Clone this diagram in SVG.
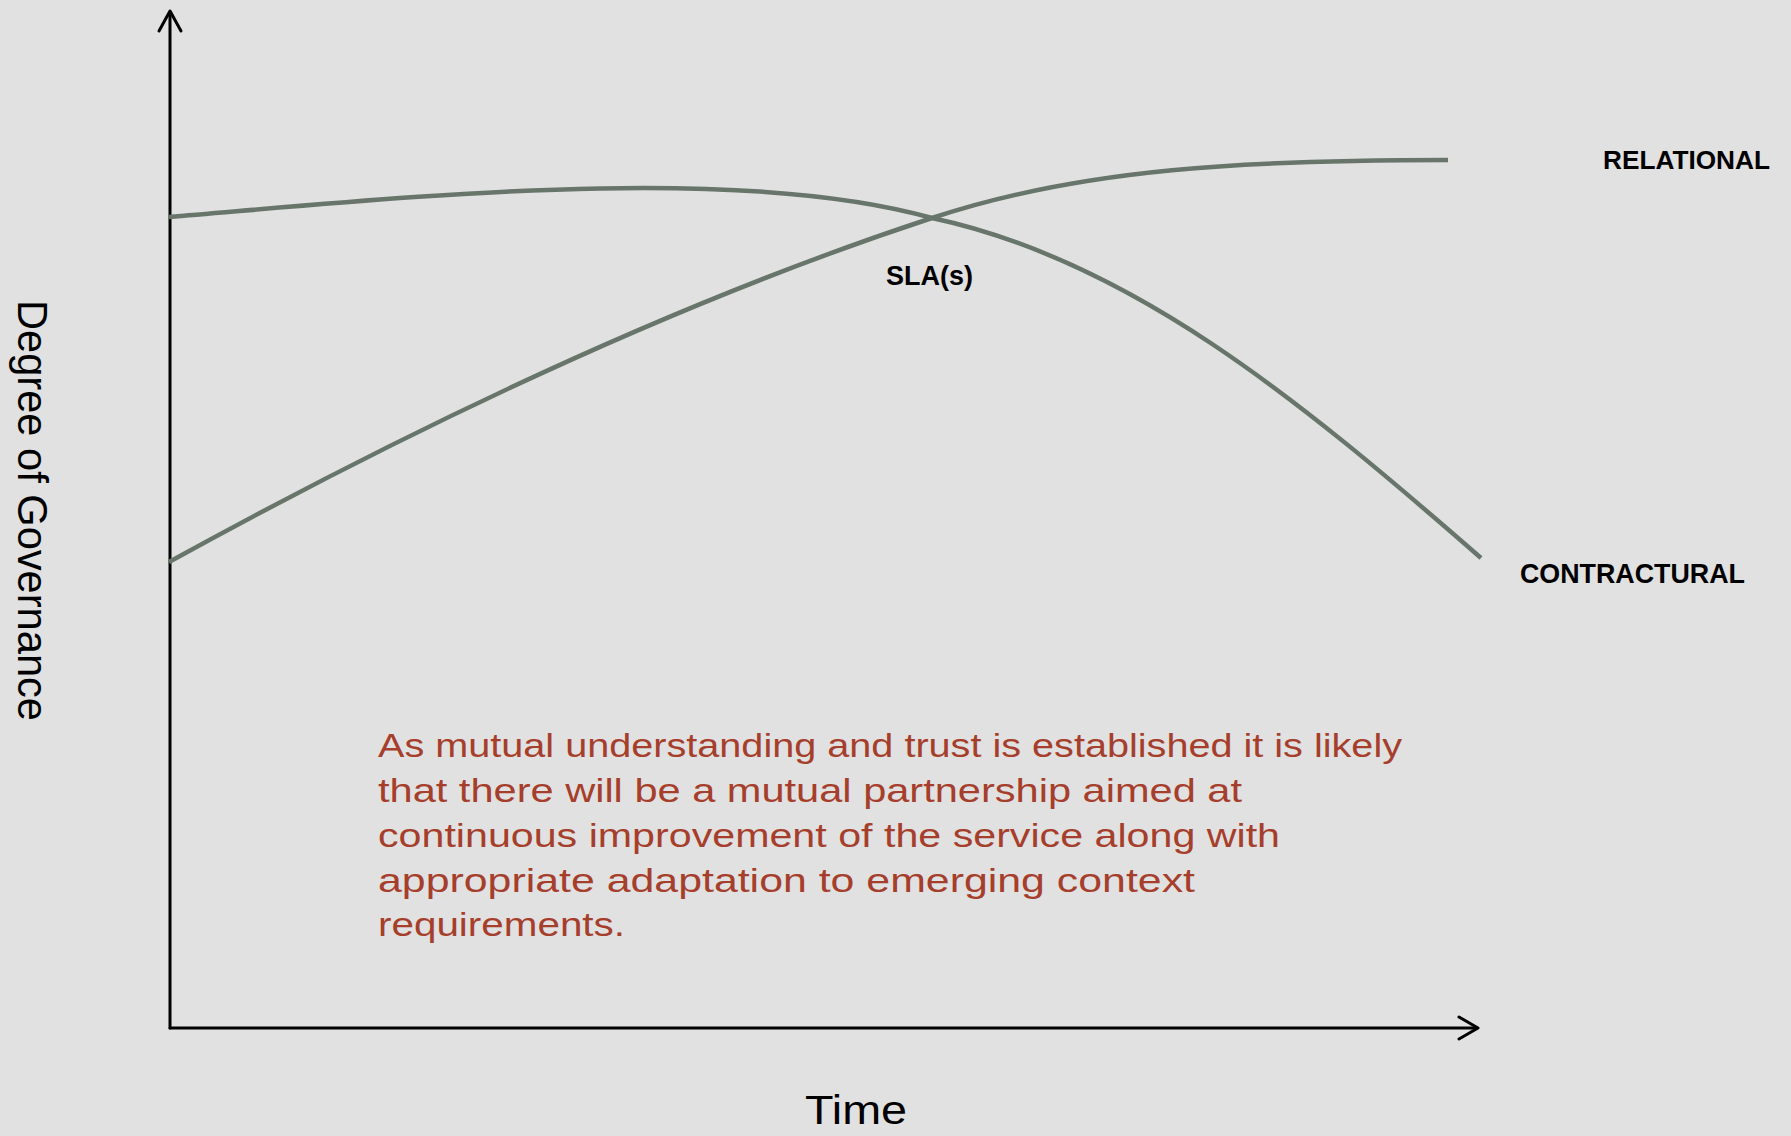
<svg xmlns="http://www.w3.org/2000/svg" width="1791" height="1136" viewBox="0 0 1791 1136">
  <style>
    .axis { fill: none; stroke: #000; stroke-width: 3; stroke-linecap: round; stroke-linejoin: round; }
    .curve { fill: none; stroke: #68756b; stroke-width: 4.5; }
    .lbl { font-family: "Liberation Sans", Arial, sans-serif; font-weight: bold; fill: #000; }
    .ax { font-family: "Liberation Sans", Arial, sans-serif; fill: #000; }
    .para { font-family: "Liberation Sans", Arial, sans-serif; font-size: 34px; fill: #a63e2c; }
  </style>
  <rect x="0" y="0" width="1791" height="1136" fill="#e1e1e1"/>
  <g id="axes">
    <path class="axis" d="M170,1028 L170,12"/>
    <path class="axis" d="M159,31 L170,11 L181,31"/>
    <path class="axis" d="M170,1028 L1476,1028"/>
    <path class="axis" d="M1459,1017 L1478,1028 L1459,1039"/>
  </g>
  <g id="connectors">
    <path id="contractual-curve" class="curve" d="M169,217 C400,198 732,162 932,218 C1130,260 1300,400 1481,558"/>
    <path id="relational-curve" class="curve" stroke-width="4" d="M169,562 C420,424 682,300 932,218 C1082,168 1250,160 1448,160"/>
  </g>
  <g id="relational-label">
    <text class="lbl" x="1603" y="169" font-size="25" textLength="167" lengthAdjust="spacingAndGlyphs">RELATIONAL</text>
  </g>
  <g id="contractural-label">
    <text class="lbl" x="1520" y="583" font-size="28" textLength="225" lengthAdjust="spacingAndGlyphs">CONTRACTURAL</text>
  </g>
  <g id="sla-label">
    <text class="lbl" x="886" y="285" font-size="28" textLength="87" lengthAdjust="spacingAndGlyphs">SLA(s)</text>
  </g>
  <g id="y-axis-label">
    <text class="ax" transform="translate(18,300) rotate(90)" x="0" y="0" font-size="42" textLength="421" lengthAdjust="spacingAndGlyphs">Degree of Governance</text>
  </g>
  <g id="x-axis-label">
    <text class="ax" x="805" y="1124" font-size="41" textLength="102" lengthAdjust="spacingAndGlyphs">Time</text>
  </g>
  <g id="note">
    <text class="para" x="378" y="757" textLength="1024" lengthAdjust="spacingAndGlyphs">As mutual understanding and trust is established it is likely</text>
    <text class="para" x="378" y="802" textLength="864" lengthAdjust="spacingAndGlyphs">that there will be a mutual partnership aimed at</text>
    <text class="para" x="378" y="847" textLength="902" lengthAdjust="spacingAndGlyphs">continuous improvement of the service along with</text>
    <text class="para" x="378" y="892" textLength="817" lengthAdjust="spacingAndGlyphs">appropriate adaptation to emerging context</text>
    <text class="para" x="378" y="936" textLength="247" lengthAdjust="spacingAndGlyphs">requirements.</text>
  </g>
</svg>
